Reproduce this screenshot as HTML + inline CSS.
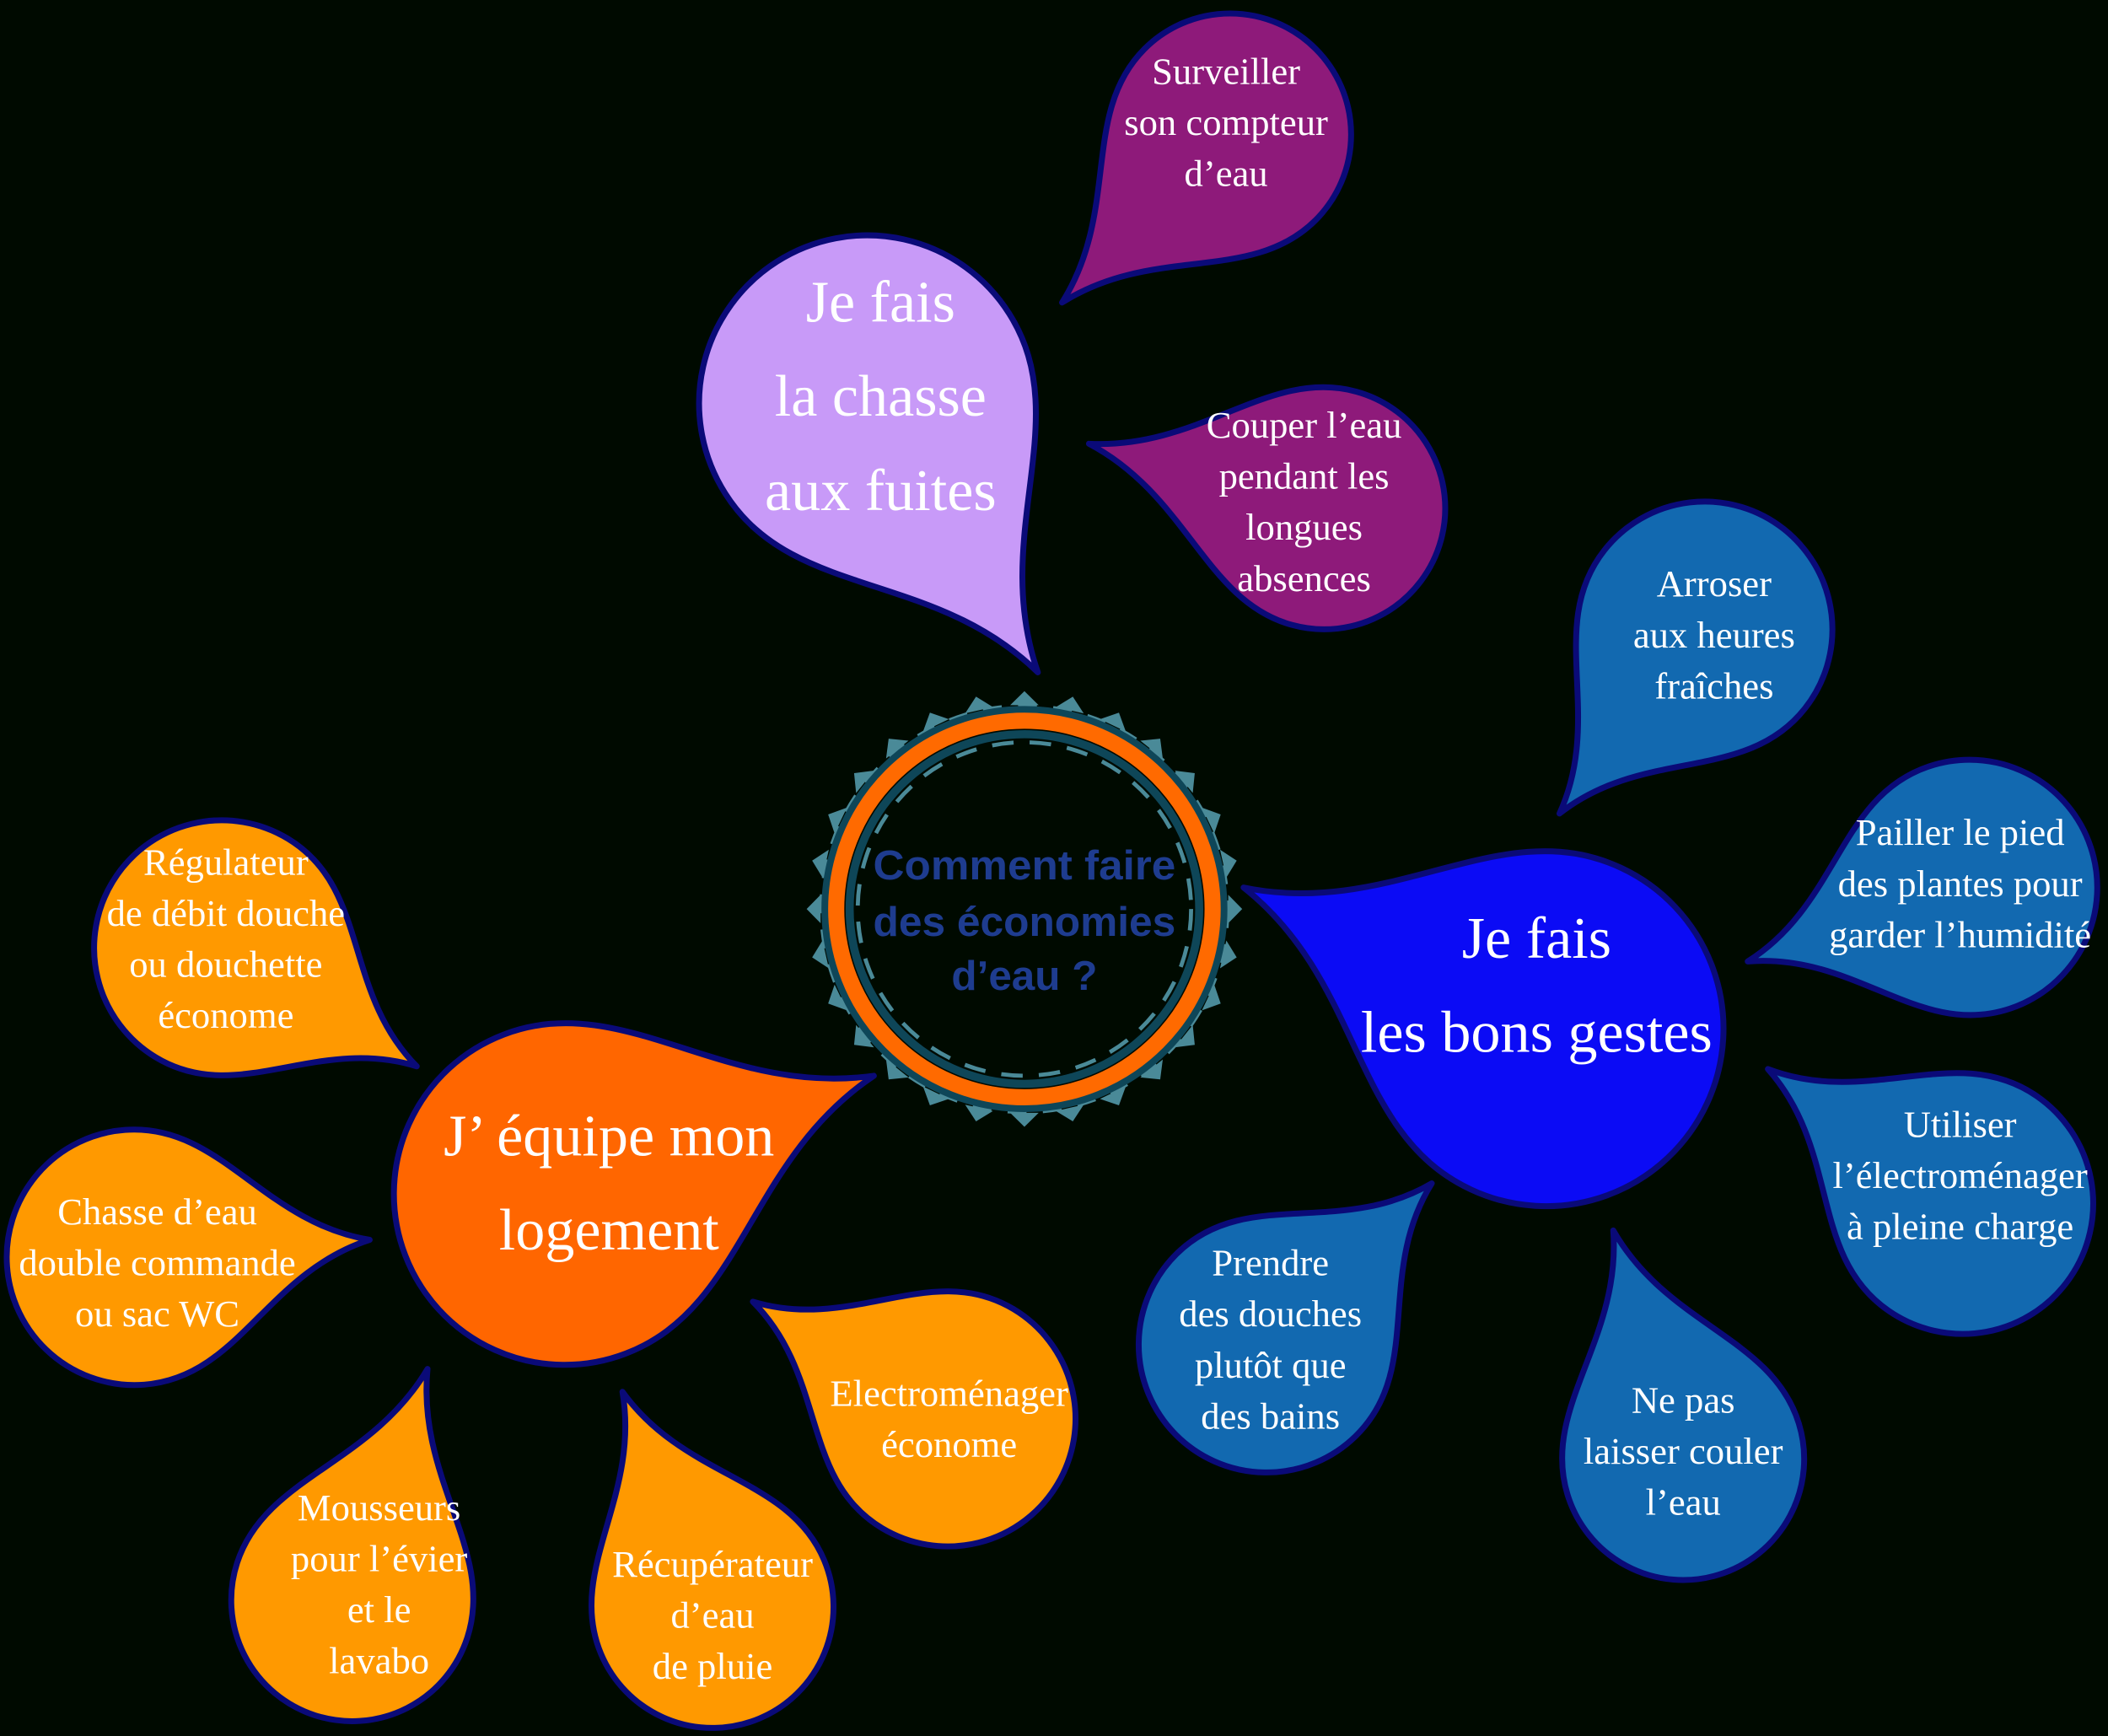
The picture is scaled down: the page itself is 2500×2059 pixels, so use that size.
<!DOCTYPE html>
<html><head><meta charset="utf-8"><style>
html,body{margin:0;padding:0;background:#000a00;}
svg{display:block;}
.t{font-family:"Liberation Serif",serif;fill:#fff;text-anchor:middle;}
</style></head><body>
<svg id="s" width="2500" height="2059" viewBox="0 0 1568 1291" preserveAspectRatio="none" xmlns="http://www.w3.org/2000/svg">
<rect width="1568" height="1291" fill="#000a00"/>
<g id="drops"></g>
<g id="ring" transform="translate(762,676)">
  <circle r="150" fill="none" stroke="#4a8a98" stroke-width="5" stroke-dasharray="14 12"/>
  <circle r="146" fill="none" stroke="#0e4658" stroke-width="10"/>
  <circle r="140" fill="none" stroke="#ff6a00" stroke-width="12"/>
  <circle r="130" fill="none" stroke="#0e4658" stroke-width="6"/>
  <circle r="124" fill="none" stroke="#4a8a98" stroke-width="3" stroke-dasharray="16 12"/>
</g>
<g font-family="Liberation Sans, sans-serif" font-weight="bold" fill="#1e3c8f" text-anchor="middle" font-size="31">
<text x="762" y="654" textLength="225" lengthAdjust="spacingAndGlyphs">Comment faire</text>
<text x="762" y="696" textLength="225" lengthAdjust="spacingAndGlyphs">des économies</text>
<text x="762" y="736">d’eau ?</text>
</g>
<g id="texts" class="t"></g>
</svg>
<script>
var D=[
 [915,100,90,790,225,"#8e1a7a",["Surveiller","son compteur","d’eau"],28,38,912,62],
 [645,300,125,772,500,"#c89af8",["Je fais","la chasse","aux fuites"],44,70,655,240],
 [985,378,90,810,330,"#8e1a7a",["Couper l’eau","pendant les","longues","absences"],28,38,970,325],
 [1268,468,95,1160,605,"#1269b0",["Arroser","aux heures","fraîches"],28,38,1275,443],
 [1150,765,132,925,660,"#0b0bf5",["Je fais","les bons gestes"],44,70,1143,713],
 [1465,660,95,1300,715,"#1269b0",["Pailler le pied","des plantes pour","garder l’humidité"],28,38,1458,628],
 [1460,895,97,1315,795,"#1269b0",["Utiliser","l’électroménager","à pleine charge"],28,38,1458,845],
 [1252,1085,90,1200,915,"#1269b0",["Ne pas","laisser couler","l’eau"],28,38,1252,1050],
 [942,1000,95,1065,880,"#1269b0",["Prendre","des douches","plutôt que","des bains"],28,38,945,948],
 [420,888,127,650,800,"#ff6600",["J’ équipe mon","logement"],44,70,453,860],
 [165,705,95,310,793,"#ff9900",["Régulateur","de débit douche","ou douchette","économe"],28,38,168,650],
 [100,935,95,275,922,"#ff9900",["Chasse d’eau","double commande","ou sac WC"],28,38,117,910],
 [262,1190,90,318,1018,"#ff9900",["Mousseurs","pour l’évier","et le","lavabo"],28,38,282,1130],
 [530,1195,90,463,1035,"#ff9900",["Récupérateur","d’eau","de pluie"],28,38,530,1172],
 [705,1055,95,560,968,"#ff9900",["Electroménager","économe"],28,38,706,1045]
];
var NS="http://www.w3.org/2000/svg",g=document.getElementById("drops"),tg=document.getElementById("texts");
D.forEach(function(d){
 var cx=d[0],cy=d[1],r=d[2],tx=d[3],ty=d[4];
 var dx=tx-cx,dy=ty-cy,L=Math.sqrt(dx*dx+dy*dy),k=L/r;
 var ang=Math.atan2(dy,dx)*180/Math.PI+90;
 var p="M0,"+(-k)+" C"+0.2+","+(-k*0.55)+" 1,-0.75 1,0 A1,1 0 0 1 -1,0 C-1,-0.75 -0.2,"+(-k*0.55)+" 0,"+(-k)+" Z";
 var e=document.createElementNS(NS,"path");
 e.setAttribute("d",p);
 e.setAttribute("transform","translate("+cx+","+cy+") rotate("+ang+") scale("+r+")");
 e.setAttribute("fill",d[5]);e.setAttribute("stroke","#0a0a78");e.setAttribute("stroke-width","7");
 e.setAttribute("vector-effect","non-scaling-stroke");e.setAttribute("stroke-linejoin","round");
 g.appendChild(e);
 var off=d[7]>40?-14:-8;
 d[6].forEach(function(s,i){
  var t=document.createElementNS(NS,"text");
  t.setAttribute("x",d[9]);t.setAttribute("y",d[10]+i*d[8]+d[7]*0.3+off);
  t.setAttribute("font-size",d[7]);t.textContent=s;tg.appendChild(t);
 });
});
var rg=document.getElementById("ring");
for(var i=0;i<28;i++){
 var a=i/28*Math.PI*2,c=Math.cos(a),s=Math.sin(a);
 var q=document.createElementNS(NS,"polygon");
 var R=158,w=0.07;
 q.setAttribute("points",[ [ (R-6)*Math.cos(a-w),(R-6)*Math.sin(a-w)],[ (R+4)*c,(R+4)*s],[ (R-6)*Math.cos(a+w),(R-6)*Math.sin(a+w)] ].map(function(p){return p[0].toFixed(1)+","+p[1].toFixed(1)}).join(" "));
 q.setAttribute("fill","#4a8a98");rg.appendChild(q);
}
</script>
</body></html>
